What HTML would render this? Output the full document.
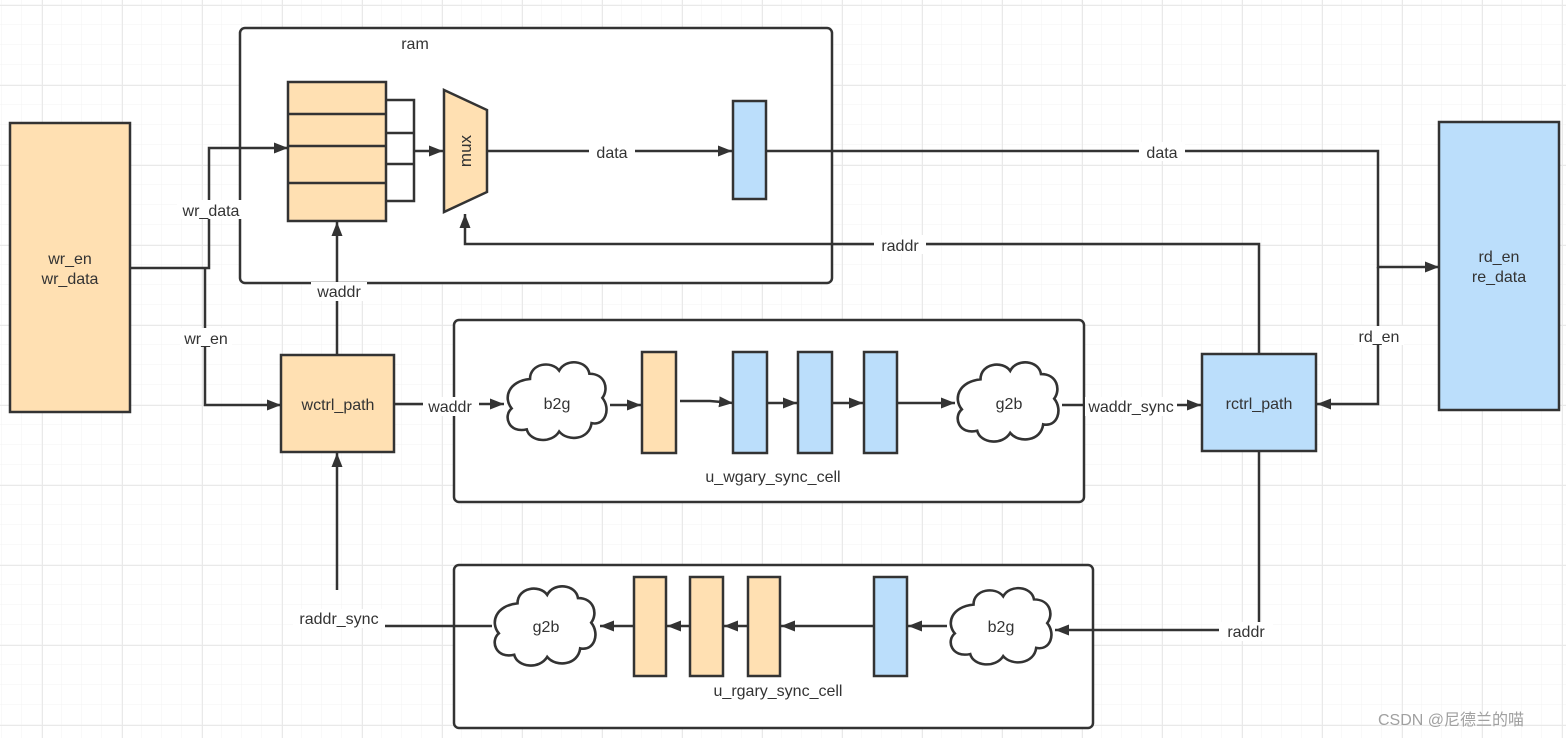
<!DOCTYPE html>
<html><head><meta charset="utf-8"><style>
html,body{margin:0;padding:0;background:#fff}
svg{display:block}
text{font-family:"Liberation Sans","Noto Sans CJK SC",sans-serif;font-size:16px;fill:#333}
</style></head><body>
<svg width="1566" height="738" viewBox="0 0 1566 738" xmlns="http://www.w3.org/2000/svg">
<defs>
<pattern id="minor" x="2" y="5" width="20" height="20" patternUnits="userSpaceOnUse">
<path d="M20 0V20M0 20H20" stroke="#f3f3f3" stroke-width="1" fill="none"/>
</pattern>
<pattern id="major" x="42" y="5" width="80" height="80" patternUnits="userSpaceOnUse">
<path d="M0 0V80M0 0H80" stroke="#e9e9e9" stroke-width="2" fill="none"/>
</pattern>
<marker id="a" markerWidth="14" markerHeight="11" refX="14" refY="5.5" orient="auto" markerUnits="userSpaceOnUse">
<path d="M0,0 L14,5.5 L0,11 Z" fill="#333"/>
</marker>
<path id="cloud" d="M25,20 C25,5 45,2 52,12 C58,0 78,2 80,15 C95,15 98,30 92,38 C100,48 95,65 82,62 C80,78 60,80 52,70 C45,82 25,80 22,68 C5,72 0,55 8,48 C0,38 5,22 25,20 Z"/>
</defs>
<rect width="1566" height="738" fill="#fff"/>
<rect width="1566" height="738" fill="url(#minor)"/>
<rect width="1566" height="738" fill="url(#major)"/>

<g stroke="#333" stroke-width="2.5" fill="none">
<rect x="240" y="28" width="592" height="255" rx="5" fill="#fff"/>
<rect x="454" y="320" width="630" height="182" rx="5" fill="#fff"/>
<rect x="454" y="565" width="639" height="163" rx="5" fill="#fff"/>
</g>

<g stroke="#333" stroke-width="2.5">
<rect x="10" y="123" width="120" height="289" fill="#ffe0b2"/>
<rect x="1439" y="122" width="120" height="288" fill="#bbdefb"/>
<rect x="288" y="82" width="98" height="139" fill="#ffe0b2"/>
<path d="M288 114H386M288 146H386M288 183H386" fill="none"/>
<path d="M386 100H414V201H386M386 133H414M386 164H414" fill="none"/>
<polygon points="444,90 487,110 487,192 444,212" fill="#ffe0b2"/>
<rect x="733" y="101" width="33" height="98" fill="#bbdefb"/>
<rect x="281" y="355" width="113" height="97" fill="#ffe0b2"/>
<rect x="1202" y="354" width="114" height="97" fill="#bbdefb"/>
<rect x="642" y="352" width="34" height="101" fill="#ffe0b2"/>
<rect x="733" y="352" width="34" height="101" fill="#bbdefb"/>
<rect x="798" y="352" width="34" height="101" fill="#bbdefb"/>
<rect x="864" y="352" width="33" height="101" fill="#bbdefb"/>
<rect x="874" y="577" width="33" height="99" fill="#bbdefb"/>
<rect x="748" y="577" width="32" height="99" fill="#ffe0b2"/>
<rect x="690" y="577" width="33" height="99" fill="#ffe0b2"/>
<rect x="634" y="577" width="32" height="99" fill="#ffe0b2"/>
</g>
<g fill="#fff" stroke="#333" stroke-width="2.4">
<use href="#cloud" transform="translate(503,358) scale(1.08,1.05)"/>
<use href="#cloud" transform="translate(953,358) scale(1.1,1.07)"/>
<use href="#cloud" transform="translate(490,582) scale(1.1,1.07)"/>
<use href="#cloud" transform="translate(946,584) scale(1.1,1.03)"/>
</g>

<g stroke="#333" stroke-width="2.5" fill="none" marker-end="url(#a)">
<path d="M130 268H209V148H288"/>
<path d="M205 268V405H281"/>
<path d="M414 151H443"/>
<path d="M487 151H732"/>
<path d="M766 151H1378V267H1439"/>
<path d="M1378 267V404H1317"/>
<path d="M1259 354V244H465V214"/>
<path d="M337 355V222"/>
<path d="M394 404H504"/>
<path d="M610 405H641"/>
<path d="M680 401H710L733 403"/>
<path d="M767 403H797"/>
<path d="M832 403H863"/>
<path d="M897 403H955"/>
<path d="M1062 405H1201"/>
<path d="M1259 451V630H1055"/>
<path d="M947 626H908"/>
<path d="M874 626H781"/>
<path d="M748 626H724"/>
<path d="M690 626H667"/>
<path d="M634 626H600"/>
<path d="M492 626H380" marker-end="none"/>
<path d="M337 590V453"/>
</g>

<g text-anchor="middle">
<text x="70" y="264">wr_en</text>
<text x="70" y="284">wr_data</text>
<text x="1499" y="262">rd_en</text>
<text x="1499" y="282">re_data</text>
<text x="415" y="49">ram</text>
<text x="0" y="0" transform="translate(471,151) rotate(-90)" style="font-size:17px">mux</text>
<rect x="589" y="142" width="46" height="19" fill="#fff"/><text x="612" y="158">data</text>
<rect x="1139" y="142" width="46" height="19" fill="#fff"/><text x="1162" y="158">data</text>
<rect x="874" y="235" width="52" height="19" fill="#fff"/><text x="900" y="251">raddr</text>
<rect x="177" y="200" width="66" height="19" fill="#fff"/><text x="211" y="216">wr_data</text>
<rect x="180" y="328" width="52" height="19" fill="#fff"/><text x="206" y="344">wr_en</text>
<rect x="311" y="282" width="56" height="19" fill="#fff"/><text x="339" y="297">waddr</text>
<rect x="1354" y="326" width="50" height="19" fill="#fff"/><text x="1379" y="342">rd_en</text>
<text x="338" y="410">wctrl_path</text>
<text x="1259" y="409">rctrl_path</text>
<rect x="423" y="397" width="56" height="19" fill="#fff"/><text x="450" y="412">waddr</text>
<rect x="1085" y="397" width="92" height="19" fill="#fff"/><text x="1131" y="412">waddr_sync</text>
<rect x="1219" y="622" width="54" height="19" fill="#fff"/><text x="1246" y="637">raddr</text>
<rect x="293" y="609" width="92" height="19" fill="#fff"/><text x="339" y="624">raddr_sync</text>
<text x="557" y="409">b2g</text>
<text x="1009" y="409">g2b</text>
<text x="546" y="632">g2b</text>
<text x="1001" y="632">b2g</text>
<text x="773" y="482">u_wgary_sync_cell</text>
<text x="778" y="696">u_rgary_sync_cell</text>
</g>
<text x="1378" y="725" style="font-size:16px;fill:#a0a0a0">CSDN @尼德兰的喵</text>
</svg>
</body></html>
